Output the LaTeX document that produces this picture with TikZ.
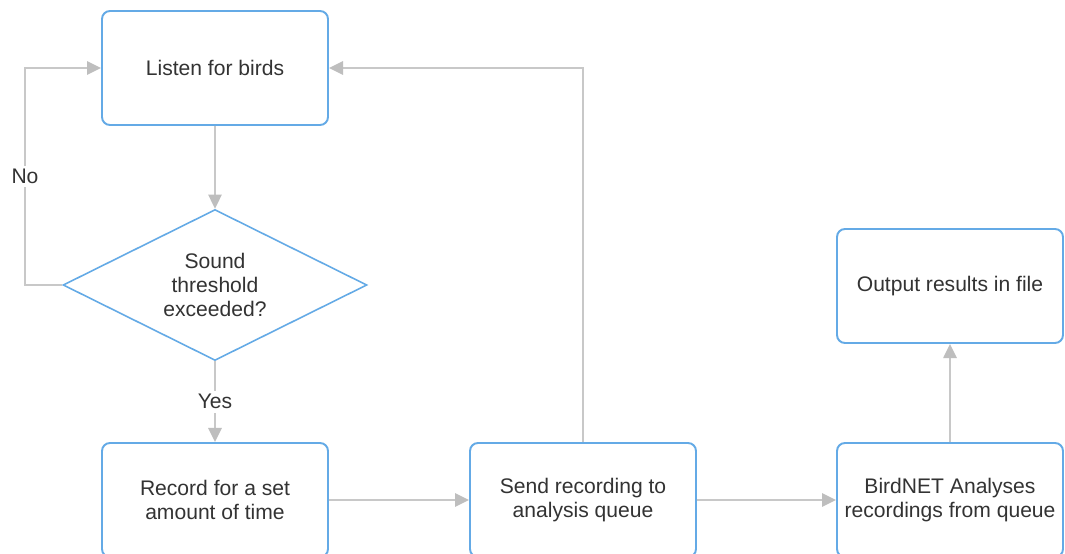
\documentclass[tikz,border=0pt]{standalone}
\usepackage{fontspec}
\setmainfont{Liberation Sans}
\usetikzlibrary{arrows.meta,shapes.geometric}
\definecolor{boxblue}{RGB}{100,170,230}
\definecolor{linegray}{RGB}{200,200,200}
\definecolor{tipgray}{RGB}{190,190,190}
\definecolor{textgray}{RGB}{51,51,51}
\tikzstyle{stage} = [rectangle, rounded corners=4.5pt, draw=boxblue, line width=1.1pt, fill=white,
  minimum width=4.52cm, minimum height=2.28cm, align=center, text=textgray,
  font=\fontsize{12}{13.9}\selectfont]
\tikzstyle{check} = [diamond, draw=boxblue, line width=0.9pt, fill=white, aspect=2,
  minimum width=6.08cm, minimum height=3.02cm, inner sep=0pt, align=center, text=textgray,
  font=\fontsize{12}{13.9}\selectfont]
\tikzstyle{flow} = [draw=linegray, line width=1.2pt, -{Triangle[length=8pt,width=7.5pt,color=tipgray]}]
\tikzstyle{answer} = [fill=white, text=textgray, inner sep=2pt, font=\fontsize{12}{13.9}\selectfont]

\begin{document}
\begin{tikzpicture}[x=0.02cm, y=-0.02cm]
	\useasboundingbox (0,0) rectangle (1065,554);
	\fill[white] (0,0) rectangle (1065,554);
	% boxes of the flow
	\node [stage] (listen) at (215,68) {Listen for birds};
	\node [check] (thresh) at (215,285) {Sound\\ threshold\\ exceeded?};
	\node [stage] (record) at (215,500) {Record for a set\\ amount of time};
	\node [stage] (send) at (583,500) {Send recording to\\ analysis queue};
	\node [stage] (birdnet) at (950,500) {BirdNET Analyses\\ recordings from queue};
	\node [stage] (output) at (950,286) {Output results in file};
	\coordinate (noturn) at (25,285);
	\coordinate (backturn) at (583,68);
	% connectors
	\draw [flow] (listen) -- (thresh);
	\draw [flow] (thresh.west) -- (noturn) |- (listen.west) node [answer, pos=0.25] {No};
	\draw [flow] (thresh.south) -- (record.north) node [answer, pos=0.5] {Yes};
	\draw [flow] (record) -- (send);
	\draw [flow] (send.north) -- (backturn) -- (listen.east);
	\draw [flow] (send) -- (birdnet);
	\draw [flow] (birdnet) -- (output);
\end{tikzpicture}
\end{document}
